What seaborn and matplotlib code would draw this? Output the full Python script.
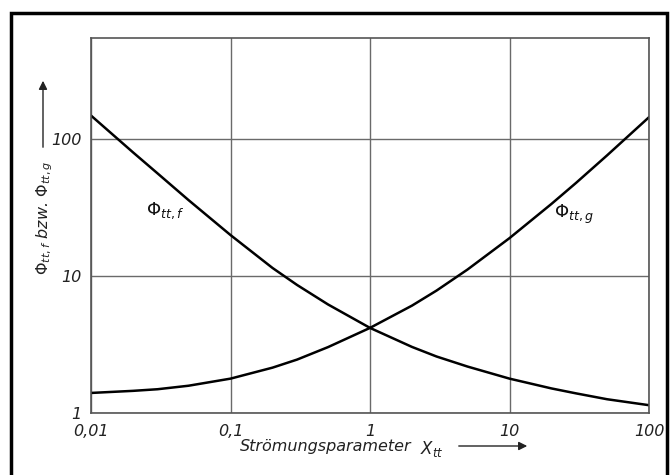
import matplotlib
matplotlib.use("Agg")
import matplotlib.pyplot as plt
from matplotlib.patches import Rectangle, FancyArrowPatch
from matplotlib.ticker import FixedLocator, FixedFormatter, NullLocator
import pandas as pd
import seaborn as sns

# Lockhart-Martinelli two-phase multipliers versus flow parameter X_tt
x_tt = [0.01, 0.02, 0.03, 0.05, 0.1, 0.2, 0.3, 0.5, 1, 2, 3, 5, 10, 20, 30, 50, 100]
phi_f = [147, 79.3, 55.7, 35.6, 19.8, 11.4, 8.57, 6.18, 4.17, 3.03, 2.58, 2.18, 1.78, 1.51, 1.39, 1.26, 1.14]
phi_g = [1.40, 1.45, 1.49, 1.58, 1.78, 2.14, 2.45, 3.02, 4.17, 6.06, 7.80, 11.1, 18.8, 33.4, 47.5, 75.3, 143]

x_ticks = [0.01, 0.1, 1, 10, 100]
x_ticklabels = ["0,01", "0,1", "1", "10", "100"]
y_ticks = [1, 10, 100]
y_ticklabels = ["1", "10", "100"]

df = pd.DataFrame({
    "X": x_tt * 2,
    "Phi": phi_f + phi_g,
    "Kurve": ["f"] * len(x_tt) + ["g"] * len(x_tt),
})

sns.set_theme(style="white")
plt.rcParams["font.family"] = ["DejaVu Sans"]

W, H = 670, 475
fig = plt.figure(figsize=(W / 100, H / 100), dpi=100)
fig.patch.set_facecolor("white")

# plot area in pixels: left 91, right 649, top 38, bottom 413
ax = fig.add_axes([91 / W, 1 - 413 / H, (649 - 91) / W, (413 - 38) / H])
ax.set_xscale("log")
ax.set_yscale("log")

sns.lineplot(data=df, x="X", y="Phi", units="Kurve", estimator=None,
             color="black", linewidth=1.8, ax=ax, legend=False)

ax.set_xlim(0.01, 100)
ax.set_ylim(1, 540)

ax.xaxis.set_major_locator(FixedLocator(x_ticks))
ax.xaxis.set_major_formatter(FixedFormatter(x_ticklabels))
ax.xaxis.set_minor_locator(NullLocator())
ax.yaxis.set_major_locator(FixedLocator(y_ticks))
ax.yaxis.set_major_formatter(FixedFormatter(y_ticklabels))
ax.yaxis.set_minor_locator(NullLocator())

ax.tick_params(axis="both", length=0, labelsize=11.5, colors="#222222")
ax.tick_params(axis="x", pad=8)
ax.tick_params(axis="y", pad=7)
for lab in ax.get_xticklabels() + ax.get_yticklabels():
    lab.set_fontstyle("italic")

ax.grid(True, which="major", color="#6a6a6a", linewidth=1.0)
for sp in ax.spines.values():
    sp.set_visible(True)
    sp.set_color("#555555")
    sp.set_linewidth(1.2)

ax.set_xlabel("")
ax.set_ylabel("")

# curve labels
ax.text(0.034, 30, r"$\mathit{\Phi}_{\mathit{tt,f}}$", fontsize=13,
        ha="center", va="center", color="#111111")
ax.text(29, 28, r"$\mathit{\Phi}_{\mathit{tt,g}}$", fontsize=13,
        ha="center", va="center", color="#111111")

# y-axis title with arrow
fig.text(45 / W, 1 - 218 / H,
         r"$\mathit{\Phi}_{\mathit{tt,f}}$ bzw. $\mathit{\Phi}_{\mathit{tt,g}}$",
         rotation=90, ha="center", va="center", fontsize=11.5,
         fontstyle="italic", color="#222222")
fig.add_artist(FancyArrowPatch(
    (43 / W, 1 - 150 / H), (43 / W, 1 - 78 / H), transform=fig.transFigure,
    arrowstyle="-|>,head_length=5,head_width=2.5", color="#222222",
    linewidth=1.0, mutation_scale=1))

# x-axis title with arrow
fig.text(326 / W, 1 - 447 / H, "Strömungsparameter", ha="center", va="center",
         fontsize=11.5, fontstyle="italic", color="#222222")
fig.text(432 / W, 1 - 449 / H, r"$\mathit{X}_{\mathit{tt}}$", ha="center",
         va="center", fontsize=12, color="#222222")
fig.add_artist(FancyArrowPatch(
    (456 / W, 1 - 446 / H), (530 / W, 1 - 446 / H), transform=fig.transFigure,
    arrowstyle="-|>,head_length=5,head_width=2.5", color="#222222",
    linewidth=1.0, mutation_scale=1))

# outer frame
fig.add_artist(Rectangle((11 / W, -0.05), (667 - 11) / W, (475 - 13) / H + 0.05,
                         transform=fig.transFigure, fill=False,
                         edgecolor="black", linewidth=2.5, clip_on=False))

fig.savefig("out.png", dpi=100, facecolor="white")
